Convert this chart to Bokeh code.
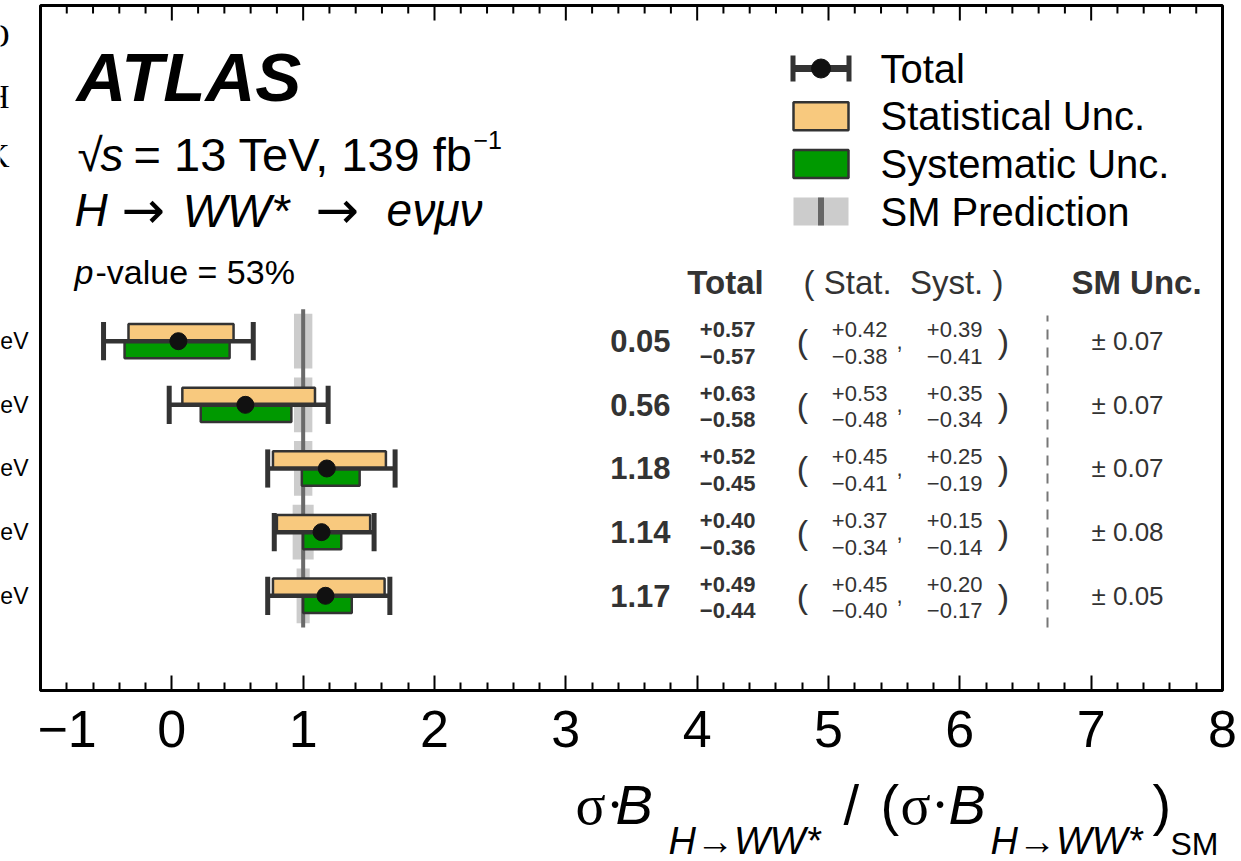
from bokeh.plotting import figure
from bokeh.layouts import column, row
from bokeh.models import ColumnDataSource, Range1d, FixedTicker
from bokeh.core.properties import value
from bokeh.embed import file_html
from bokeh.resources import INLINE

# ---------------- data ----------------
rows = [5, 4, 3, 2, 1]
row_labels = ["eV", "eV", "eV", "eV", "eV"]
central = [0.05, 0.56, 1.18, 1.14, 1.17]
tot_up = [0.57, 0.63, 0.52, 0.40, 0.49]
tot_dn = [0.57, 0.58, 0.45, 0.36, 0.44]
stat_up = [0.42, 0.53, 0.45, 0.37, 0.45]
stat_dn = [0.38, 0.48, 0.41, 0.34, 0.40]
syst_up = [0.39, 0.35, 0.25, 0.15, 0.20]
syst_dn = [0.41, 0.34, 0.19, 0.14, 0.17]
sm_unc = [0.07, 0.07, 0.07, 0.08, 0.05]
sm_value = 1.0
x_ticks = [-1, 0, 1, 2, 3, 4, 5, 6, 7, 8]
x_minor = [round(-1 + 0.2 * i, 1) for i in range(46) if i % 5]
legend_labels = ["Total", "Statistical Unc.", "Systematic Unc.", "SM Prediction"]
edge_letters = ["O", "H", "K"]

FONT = "Liberation Sans"
SERIF = "Liberation Serif"
ARROWF = "DejaVu Sans"
TXT = "#333333"
ORANGE = "#f8c97e"
GREEN = "#009900"
EDGE = "#333333"

# page geometry (page px)
LEFT_W = 37
TOP_H = 771
BOT_H = 90
MAIN_W = 1204
X0, X1 = -1.0, 8.0
PXX = 1182 / 9.0
PXY = 63.65
Y0 = -0.488
Y1 = Y0 + 685 / PXY


def tx(px):
    return X0 + (px - 40) / PXX


def ty(py):
    return Y0 + (690 - py) / PXY


p = figure(width=MAIN_W, height=TOP_H, x_range=Range1d(X0, X1), y_range=Range1d(Y0, Y1),
           output_backend="svg", toolbar_location=None, y_axis_location=None,
           min_border_left=3, min_border_right=MAIN_W - 3 - 1182, min_border_top=5,
           min_border_bottom=TOP_H - 690)
p.outline_line_color = "black"
p.outline_line_width = 3
p.grid.visible = False
p.background_fill_color = "white"
p.border_fill_color = "white"

xa = p.xaxis[0]
xa.ticker = FixedTicker(ticks=x_ticks, minor_ticks=x_minor)
xa.major_tick_in = 15
xa.major_tick_out = 0
xa.minor_tick_in = 8
xa.minor_tick_out = 0
xa.major_tick_line_width = 2
xa.minor_tick_line_width = 2
xa.major_tick_line_color = "black"
xa.minor_tick_line_color = "black"
xa.axis_line_width = 3
xa.axis_line_color = "black"
xa.major_label_text_font = FONT
xa.major_label_text_font_size = "52px"
xa.major_label_text_color = "black"
xa.major_label_standoff = 20
xa.major_label_overrides = {-1: "\u22121"}

# ticks along the top edge
p.segment(x0=x_ticks, y0=[Y1] * len(x_ticks), x1=x_ticks, y1=[Y1 - 15 / PXY] * len(x_ticks),
          line_color="black", line_width=2)
p.segment(x0=x_minor, y0=[Y1] * len(x_minor), x1=x_minor, y1=[Y1 - 8 / PXY] * len(x_minor),
          line_color="black", line_width=2)

# ---------------- marks ----------------
src = ColumnDataSource(dict(
    y=rows, c=central,
    tot_lo=[c - d for c, d in zip(central, tot_dn)],
    tot_hi=[c + u for c, u in zip(central, tot_up)],
    stat_lo=[c - d for c, d in zip(central, stat_dn)],
    stat_hi=[c + u for c, u in zip(central, stat_up)],
    syst_lo=[c - d for c, d in zip(central, syst_dn)],
    syst_hi=[c + u for c, u in zip(central, syst_up)],
    sm_lo=[sm_value - s for s in sm_unc],
    sm_hi=[sm_value + s for s in sm_unc],
    y_top=[r + 0.27 for r in rows], y_bot=[r - 0.27 for r in rows],
    band_top=[r + 0.43 for r in rows], band_bot=[r - 0.43 for r in rows],
    cap_top=[r + 0.30 for r in rows], cap_bot=[r - 0.30 for r in rows],
))

p.quad(left="sm_lo", right="sm_hi", bottom="band_bot", top="band_top", source=src,
       fill_color="#cccccc", line_color=None)
p.segment(x0=sm_value, y0=min(rows) - 0.5, x1=sm_value, y1=max(rows) + 0.5,
          line_color="#6a6a6a", line_width=4)
p.quad(left="stat_lo", right="stat_hi", bottom="y", top="y_top", source=src,
       fill_color=ORANGE, line_color=EDGE, line_width=2.5)
p.quad(left="syst_lo", right="syst_hi", bottom="y_bot", top="y", source=src,
       fill_color=GREEN, line_color=EDGE, line_width=2.5)
p.segment(x0="tot_lo", y0="y", x1="tot_hi", y1="y", source=src, line_color=EDGE, line_width=4.5)
p.segment(x0="tot_lo", y0="cap_bot", x1="tot_lo", y1="cap_top", source=src, line_color=EDGE, line_width=5)
p.segment(x0="tot_hi", y0="cap_bot", x1="tot_hi", y1="cap_top", source=src, line_color=EDGE, line_width=5)
p.scatter(x="c", y="y", source=src, size=17, fill_color="#111111", line_color="#111111")


def add_text(fig, xs, ys, texts, size, style="normal", color=TXT, align="left", font=FONT):
    s = ColumnDataSource(dict(x=xs, y=ys, t=texts))
    fig.text(x="x", y="y", text="t", source=s, text_font=value(font), text_font_size=size,
             text_font_style=style, text_color=color, text_align=align, text_baseline="middle")


n = len(rows)
OFF_SUP = 11.7 / PXY
OFF_SUB = -15.0 / PXY
OFF_COM = 0.0

# table columns
add_text(p, [tx(670)] * n, rows, [f"{c:.2f}" for c in central], "31px", "bold", align="right")
add_text(p, [tx(755)] * n, [r + OFF_SUP for r in rows], [f"+{u:.2f}" for u in tot_up], "22px", "bold", align="right")
add_text(p, [tx(755)] * n, [r + OFF_SUB for r in rows], [f"\u2212{d:.2f}" for d in tot_dn], "22px", "bold", align="right")
add_text(p, [tx(802)] * n, rows, ["("] * n, "34px", align="center")
add_text(p, [tx(887)] * n, [r + OFF_SUP for r in rows], [f"+{u:.2f}" for u in stat_up], "22px", align="right")
add_text(p, [tx(887)] * n, [r + OFF_SUB for r in rows], [f"\u2212{d:.2f}" for d in stat_dn], "22px", align="right")
add_text(p, [tx(899)] * n, [r + OFF_COM for r in rows], [","] * n, "22px", align="center")
add_text(p, [tx(982)] * n, [r + OFF_SUP for r in rows], [f"+{u:.2f}" for u in syst_up], "22px", align="right")
add_text(p, [tx(982)] * n, [r + OFF_SUB for r in rows], [f"\u2212{d:.2f}" for d in syst_dn], "22px", align="right")
add_text(p, [tx(1003)] * n, rows, [")"] * n, "34px", align="center")
add_text(p, [tx(1127)] * n, rows, [f"\u00b1 {s:.2f}" for s in sm_unc], "26px", align="center")

# headers
hy = ty(282)
add_text(p, [tx(725)], [hy], ["Total"], "33px", "bold", align="center")
add_text(p, [tx(903)], [hy], ["( Stat.\u00a0\u00a0Syst. )"], "33px", align="center")
add_text(p, [tx(1136)], [hy], ["SM Unc."], "33px", "bold", align="center")

# separator
p.segment(x0=tx(1047), y0=min(rows) - 0.5, x1=tx(1047), y1=ty(315), line_color="#777777",
          line_width=2, line_dash="10 8")

# ---------------- legend ----------------
LX = tx(820.5)
LTOP = ty(68)
LSTEP = 47.7 / PXY
ly = [LTOP - i * LSTEP for i in range(4)]
hw = 28.0 / PXX
bw = 27.5 / PXX
bh = 14.0 / PXY
ch = 13.0 / PXY
p.segment(x0=LX - hw, y0=ly[0], x1=LX + hw, y1=ly[0], line_color=EDGE, line_width=7)
p.segment(x0=[LX - hw, LX + hw], y0=[ly[0] - ch] * 2, x1=[LX - hw, LX + hw], y1=[ly[0] + ch] * 2,
          line_color=EDGE, line_width=5)
p.scatter(x=[LX], y=[ly[0]], size=19, fill_color="#111111", line_color="#111111")
p.quad(left=[LX - bw], right=[LX + bw], bottom=[ly[1] - bh], top=[ly[1] + bh],
       fill_color=ORANGE, line_color=EDGE, line_width=2.5)
p.quad(left=[LX - bw], right=[LX + bw], bottom=[ly[2] - bh], top=[ly[2] + bh],
       fill_color=GREEN, line_color=EDGE, line_width=2.5)
p.quad(left=[LX - bw], right=[LX + bw], bottom=[ly[3] - bh], top=[ly[3] + bh],
       fill_color="#cccccc", line_color=None)
p.segment(x0=[LX], y0=[ly[3] - bh], x1=[LX], y1=[ly[3] + bh], line_color="#666666", line_width=6)
add_text(p, [tx(880)] * 4, ly, legend_labels, "40px", color="black")

# ---------------- top-left texts ----------------
add_text(p, [tx(76)], [ty(77)], ["ATLAS"], "69px", "bold italic", color="black")
add_text(p, [tx(77)], [ty(154)], ["\u221a"], "46px", color="black")
add_text(p, [tx(100)], [ty(154)], ["s"], "46px", "italic", color="black")
add_text(p, [tx(133)], [ty(153.5)], ["= 13 TeV, 139 fb"], "47px", color="black")
add_text(p, [tx(473)], [ty(139)], ["\u22121"], "25px", color="black")
add_text(p, [tx(74)], [ty(209.5)], ["H"], "46px", "italic", color="black")
add_text(p, [tx(121), tx(315)], [ty(209), ty(209)], ["\u2192", "\u2192"], "52px", font=ARROWF, color="black")
add_text(p, [tx(182)], [ty(209.5)], ["WW*"], "47px", "italic", color="black")
add_text(p, [tx(386), tx(412), tx(434), tx(459)], [ty(209.5)] * 4, ["e", "\u03bd", "\u03bc", "\u03bd"],
         "46px", "italic", color="black")
add_text(p, [tx(74)], [ty(271.5)], ["p"], "34px", "italic", color="black")
add_text(p, [tx(95)], [ty(271.5)], ["-value = 53%"], "34px", color="black")


# ---------------- strip left of the frame ----------------
def strip(width, height, xr, yr, **kw):
    f = figure(width=width, height=height, x_range=xr, y_range=yr, output_backend="svg",
               toolbar_location=None, x_axis_location=None, y_axis_location=None, **kw)
    f.outline_line_color = None
    f.background_fill_color = "white"
    f.border_fill_color = "white"
    f.grid.visible = False
    return f


left = strip(LEFT_W, TOP_H, Range1d(0, LEFT_W), p.y_range,
             min_border_left=0, min_border_right=0, min_border_top=5, min_border_bottom=TOP_H - 690)
add_text(left, [28] * n, rows, row_labels, "23px", color="black", align="right")
add_text(left, [9, 9, 9], [ty(35), ty(96), ty(155)], edge_letters, "33px", color="black",
         align="right", font=SERIF)

# ---------------- strip below: axis title ----------------
bottom = strip(LEFT_W + MAIN_W, BOT_H, Range1d(0, LEFT_W + MAIN_W), Range1d(TOP_H + BOT_H, TOP_H),
               min_border_left=0, min_border_right=0, min_border_top=0, min_border_bottom=0)
MY = 804
SY = 840
add_text(bottom, [575], [MY], ["\u03c3\u00b7"], "56px", color="black", font=SERIF)
add_text(bottom, [615], [MY], ["B"], "56px", "italic", color="black")
add_text(bottom, [668], [SY], ["H\u2192WW*"], "38px", "italic", color="black")
add_text(bottom, [843], [MY], ["/"], "56px", color="black")
add_text(bottom, [880], [MY], ["("], "56px", color="black")
add_text(bottom, [900], [MY], ["\u03c3\u00b7"], "56px", color="black", font=SERIF)
add_text(bottom, [948], [MY], ["B"], "56px", "italic", color="black")
add_text(bottom, [990], [SY], ["H\u2192WW*"], "38px", "italic", color="black")
add_text(bottom, [1152], [MY], [")"], "56px", color="black")
add_text(bottom, [1170], [843], ["SM"], "32px", color="black")

layout = column(row(left, p), bottom)
open("out.html", "w").write(file_html(layout, INLINE))
